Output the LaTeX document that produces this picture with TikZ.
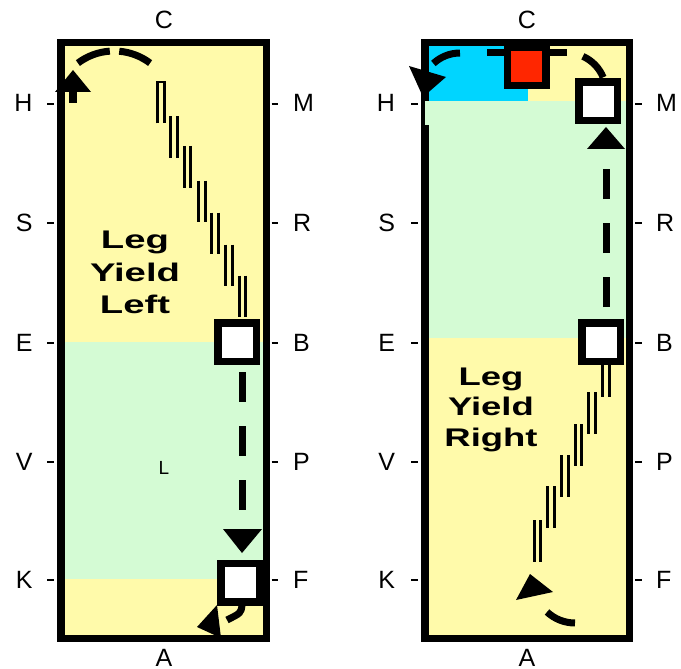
\documentclass[tikz,border=0pt]{standalone}
\usepackage{fontspec}
\setmainfont{Liberation Sans}
\usepackage{graphicx}
\definecolor{arenaY}{HTML}{FFFAAA}
\definecolor{arenaG}{HTML}{D4FBD4}
\definecolor{arenaC}{HTML}{00D5FF}
\definecolor{boxR}{HTML}{FF2600}
\tikzset{
  lab/.style={font=\fontsize{25}{30}\selectfont, inner sep=0pt, outer sep=0pt},
  title/.style={font=\fontsize{25.5}{30}\selectfont\bfseries, inner sep=0pt, anchor=base},
  tick/.style={line width=2.5pt},
  wall/.style={line width=7.5pt},
  seg/.style={line width=2.8pt},
  dashline/.style={line width=7pt, line cap=butt},
  markerbox/.style={draw=black, line width=7.5pt, fill=white, minimum size=38.5pt, inner sep=0pt},
}
\begin{document}
\begin{tikzpicture}[x=1pt,y=-1pt]
\useasboundingbox (0,0) rectangle (681,669);

% ---------- fills ----------
\fill[arenaY] (60.75,42.75) rectangle (266.25,638.25);
\fill[arenaG] (60.75,342) rectangle (266.25,579);
\fill[arenaY] (424.75,42.75) rectangle (629.25,638.25);
\fill[arenaG] (424.75,101) rectangle (629.25,338);
\fill[arenaC] (424.75,42.75) rectangle (528,101);

% ---------- walls ----------
\draw[wall] (60.75,42.75) rectangle (266.25,638.25);
\draw[wall] (424.75,42.75) rectangle (629.25,638.25);
\fill[arenaG] (425,101) rectangle (429,125);

% ---------- letters and ticks ----------
\foreach \r/\ll/\rl/\y in {1/H/M/104, 2/S/R/223, 3/E/B/343, 4/V/P/462, 5/K/F/580} {
  \node[lab, anchor=base east] (la\r) at (32.5,\y+8) {\ll};
  \node[lab, anchor=base west] (lb\r) at (293,\y+8) {\rl};
  \node[lab, anchor=base east] (ra\r) at (395,\y+8) {\ll};
  \node[lab, anchor=base west] (rb\r) at (656,\y+8) {\rl};
  \draw[tick] (47,\y) -- (53.5,\y);
  \draw[tick] (271.5,\y) -- (278,\y);
  \draw[tick] (411,\y) -- (418,\y);
  \draw[tick] (635,\y) -- (642,\y);
}
\node[lab, anchor=base] (lC) at (164,29) {C};
\node[lab, anchor=base] (lA) at (164,666) {A};
\node[lab, anchor=base] (rC) at (527,29) {C};
\node[lab, anchor=base] (rA) at (527,666) {A};

% ---------- titles ----------
\node[title] (t1) at (135,248) {\scalebox{1.5}[1]{Leg}};
\node[title] (t2) at (135,281) {\scalebox{1.5}[1]{Yield}};
\node[title] (t3) at (135,313) {\scalebox{1.5}[1]{Left}};
\node[title] (t4) at (491,385) {\scalebox{1.43}[1]{Leg}};
\node[title] (t5) at (491,415.5) {\scalebox{1.43}[1]{Yield}};
\node[title] (t6) at (491,446.5) {\scalebox{1.43}[1]{Right}};
\node[font=\fontsize{19}{22}\selectfont, inner sep=0pt, anchor=base] (lL) at (164,474) {L};

% ---------- leg-yield tracks ----------
\draw[seg, line join=miter] (157.8,123.5) -- (157.8,82) -- (164.2,82) -- (164.2,123.5);
\foreach \cx/\ty in {174/116.5, 187.5/146, 202/180.5, 215/212.5, 229/244.5, 242.5/275.5} {
  \draw[seg] (\cx-3.2,\ty) -- (\cx-3.2,\ty+41.5);
  \draw[seg] (\cx+3.2,\ty) -- (\cx+3.2,\ty+41.5);
}
\foreach \cx/\ty in {537.5/520, 551/486, 565/455, 578.5/424, 592/392, 606/355} {
  \draw[seg] (\cx-3.3,\ty) -- (\cx-3.3,\ty+41.5);
  \draw[seg] (\cx+3.3,\ty) -- (\cx+3.3,\ty+41.5);
}

% ---------- left arena path ----------
\coordinate (lc) at (114,111);
\draw[dashline] (lc) ++(-53:60) arc[start angle=-53, end angle=-85, radius=60];
\draw[dashline] (lc) ++(-94:60) arc[start angle=-94, end angle=-127, radius=60];
\fill (73,70) -- (91,92) -- (55,92) -- cycle;
\fill (69,91) rectangle (77,103);

\draw[dashline, dash pattern=on 30pt off 24pt] (242,372) -- (242,512);
\fill (223,529) -- (262,529) -- (242,553) -- cycle;

\draw[dashline] (242,605) .. controls (241,613) .. (227,620);
\fill (217,605) -- (197,627) -- (221,638) -- cycle;

% ---------- right arena path ----------
\draw[dashline, dash pattern=on 30pt off 24pt] (606,307) -- (606,167);
\fill (606,127) -- (625,149) -- (587,149) -- cycle;

\coordinate (rc1) at (567,92);
\coordinate (rc2) at (460,92);
\draw[dashline] (rc1) ++(-22:39) arc[start angle=-22, end angle=-66, radius=39];
\draw[dashline] (567,53) -- (536,53);
\draw[dashline] (519,53) -- (487,53);
\draw[dashline] (rc2) ++(-90:39) arc[start angle=-90, end angle=-133, radius=39];
\fill (409,66) -- (446,77) -- (423,97) -- cycle;

\coordinate (rc3) at (575,582);
\draw[dashline] (rc3) ++(90:41) arc[start angle=90, end angle=133, radius=41];
\fill (530,574) -- (553,592) -- (516,600) -- cycle;

% ---------- horse markers ----------
\node[markerbox] (Bl) at (237,342) {};
\node[markerbox] (Fl) at (240,582.5) {};
\node[markerbox] (Br) at (601,342) {};
\node[markerbox] (Mr) at (598,101.5) {};
\node[markerbox, fill=boxR] (Cr) at (526.5,66.5) {};
\end{tikzpicture}
\end{document}
